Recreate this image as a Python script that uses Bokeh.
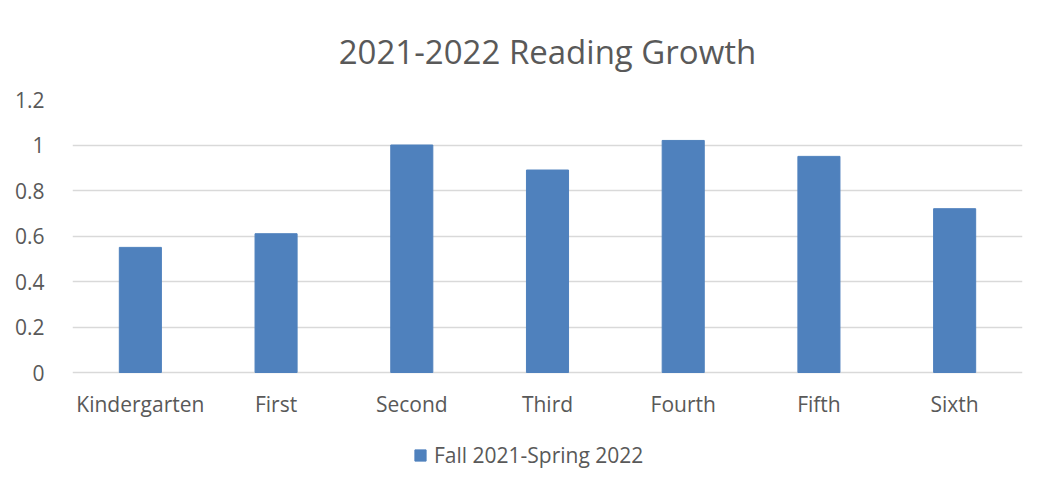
from bokeh.plotting import figure
from bokeh.models import Legend, LegendItem, ColumnDataSource, FixedTicker
from bokeh.core.properties import value
from bokeh.embed import file_html
from bokeh.resources import INLINE

categories = ["Kindergarten", "First", "Second", "Third", "Fourth", "Fifth", "Sixth"]
values = [0.55, 0.61, 1.00, 0.89, 1.02, 0.95, 0.72]
series_name = "Fall 2021-Spring 2022"
y_ticks = [0, 0.2, 0.4, 0.6, 0.8, 1.0, 1.2]

FONT = "Open Sans"
TXT = "#595959"
GRID = "#D9D9D9"
BAR = "#4F81BD"

# pixel layout of the plotting area
PX_PER_UNIT = 273 / 1.2
BELOW_ZERO_PX = 107
LABEL_PX = 31

src = ColumnDataSource(dict(cat=categories, val=values))

p = figure(x_range=categories, y_range=(-BELOW_ZERO_PX / PX_PER_UNIT, 1.2),
           frame_width=950, frame_height=273 + BELOW_ZERO_PX,
           output_backend="svg", toolbar_location=None,
           title="2021-2022 Reading Growth",
           min_border_left=72, min_border_right=20, min_border_top=0, min_border_bottom=6)

r = p.vbar(x="cat", top="val", width=0.31, source=src, fill_color=BAR, line_color=BAR)

# category labels under the zero line
p.text(x=categories, y=[-LABEL_PX / PX_PER_UNIT] * len(categories), text=categories,
       text_align="center", text_baseline="middle", text_font=value(FONT),
       text_font_size="21px", text_color=TXT)

p.title.align = "center"
p.title.text_font = FONT
p.title.text_font_size = "33px"
p.title.text_font_style = "normal"
p.title.text_color = TXT
p.title.standoff = 52

p.x_range.range_padding = 0
p.xaxis.visible = False
p.yaxis.ticker = FixedTicker(ticks=y_ticks)
p.yaxis.major_label_overrides = {0: "0", 0.2: "0.2", 0.4: "0.4", 0.6: "0.6", 0.8: "0.8", 1.0: "1", 1.2: "1.2"}
p.yaxis.major_label_text_font = FONT
p.yaxis.major_label_text_font_size = "21px"
p.yaxis.major_label_text_color = TXT
p.yaxis.major_tick_line_color = None
p.yaxis.minor_tick_line_color = None
p.yaxis.axis_line_color = None
p.yaxis.major_label_standoff = 22

p.xgrid.grid_line_color = None
p.ygrid.ticker = FixedTicker(ticks=y_ticks)
p.ygrid.grid_line_color = GRID
p.ygrid.grid_line_width = 1.5
p.outline_line_color = None

legend = Legend(items=[LegendItem(label=series_name, renderers=[r])],
                orientation="horizontal", location=(341, 10),
                label_text_font=FONT, label_text_font_size="21px", label_text_color=TXT,
                glyph_width=14, glyph_height=14, border_line_color=None,
                background_fill_alpha=0, margin=0, padding=4, label_standoff=7)
p.add_layout(legend, "center")

open("out.html", "w").write(file_html(p, INLINE))
